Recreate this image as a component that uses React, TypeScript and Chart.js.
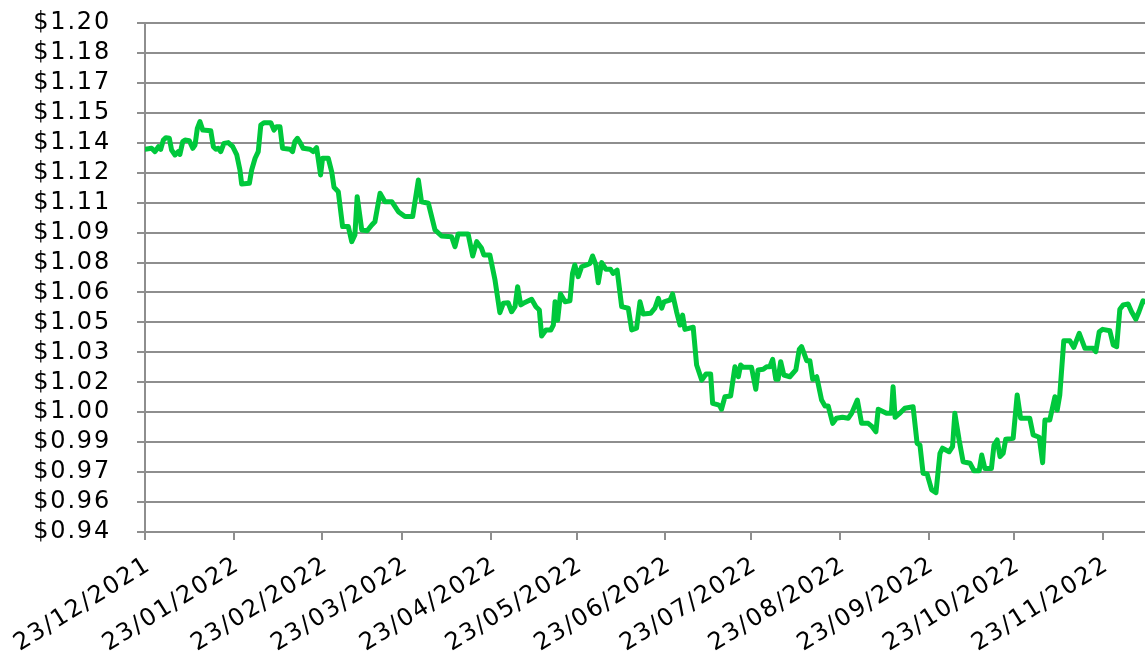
import React, { useEffect, useRef } from 'react';
import { Chart, registerables } from 'chart.js';

Chart.register(...registerables);

// Days since 23/12/2021
const dayOffsets: number[] = [
  0.0, 2.3, 3.5, 4.7, 5.5, 6.4, 7.3, 8.5, 9.3, 10.5, 11.6, 12.2, 13.2, 14.0, 15.5, 16.7, 17.5, 18.3, 19.2, 20.2,
  23.0, 23.9, 24.8, 25.6, 26.5, 27.6, 29.1, 30.7, 32.1, 33.2, 33.8, 36.5, 37.3, 38.5, 39.6, 40.5, 41.6, 44.0, 45.1, 46.0,
  47.2, 48.1, 50.7, 51.6, 52.4, 53.3, 54.4, 55.3, 57.7, 58.8, 60.0, 61.4, 62.1, 64.1, 65.3, 66.1, 67.6, 69.1, 71.1, 72.3,
  73.4, 74.2, 75.8, 77.7, 79.3, 80.4, 82.2, 83.9, 86.3, 88.6, 90.9, 93.6, 95.6, 96.7, 99.1, 101.4, 103.7, 107.2, 108.4, 109.5,
  113.0, 114.6, 116.0, 117.7, 118.5, 120.6, 122.4, 124.1, 125.3, 127.0, 128.2, 129.4, 130.3, 131.4, 132.3, 135.2, 136.7, 137.9, 138.7, 140.2,
  141.9, 142.8, 143.4, 144.3, 145.3, 146.9, 148.6, 149.5, 150.3, 151.5, 152.7, 154.4, 155.6, 156.5, 157.7, 158.5, 159.7, 161.2, 162.8, 163.7,
  165.1, 166.7, 169.0, 170.2, 171.9, 173.1, 174.2, 176.8, 178.3, 179.5, 180.7, 181.5, 183.6, 184.5, 185.9, 187.1, 188.0, 188.8, 191.7, 192.9,
  194.7, 196.2, 197.8, 198.5, 200.5, 201.0, 201.6, 202.8, 204.8, 206.3, 207.5, 208.3, 209.2, 212.1, 213.6, 214.4, 216.2, 217.4, 218.5, 219.5,
  220.6, 221.4, 222.3, 223.4, 225.5, 227.6, 228.8, 229.6, 231.4, 232.5, 233.5, 234.9, 236.6, 237.8, 238.9, 240.5, 241.8, 243.9, 245.9, 247.1,
  249.1, 250.6, 252.9, 254.1, 255.6, 256.4, 259.3, 261.0, 261.6, 262.3, 263.7, 265.7, 268.6, 270.0, 271.0, 272.1, 273.5, 275.1, 276.6, 278.0,
  278.9, 281.2, 282.4, 283.2, 284.7, 286.1, 288.5, 289.9, 291.7, 292.6, 293.7, 296.0, 296.9, 298.0, 299.0, 300.1, 301.0, 303.6, 305.0, 306.2,
  309.4, 310.6, 312.7, 313.9, 314.7, 316.4, 318.2, 319.0, 319.9, 321.3, 323.4, 324.8, 326.7, 328.7, 331.6, 332.5, 333.7, 334.9, 337.4, 338.6,
  339.8, 340.9, 342.1, 343.8, 345.0, 346.5, 347.6, 349.0, 349.7,
];

const prices: number[] = [
  1.1355, 1.1360, 1.1343, 1.1368, 1.1355, 1.1402, 1.1414, 1.1411, 1.1351, 1.1326, 1.1343, 1.1329, 1.1394, 1.1402, 1.1399, 1.1360, 1.1377, 1.1462, 1.1496, 1.1453,
  1.1450, 1.1368, 1.1355, 1.1360, 1.1343, 1.1385, 1.1389, 1.1368, 1.1326, 1.1249, 1.1178, 1.1181, 1.1249, 1.1309, 1.1343, 1.1479, 1.1491, 1.1491, 1.1453, 1.1470,
  1.1470, 1.1360, 1.1355, 1.1343, 1.1394, 1.1411, 1.1385, 1.1360, 1.1355, 1.1343, 1.1363, 1.1224, 1.1309, 1.1309, 1.1240, 1.1161, 1.1138, 1.0960, 1.0960, 1.0883,
  1.0917, 1.1113, 1.0943, 1.0939, 1.0968, 1.0985, 1.1130, 1.1087, 1.1087, 1.1036, 1.1011, 1.1011, 1.1198, 1.1087, 1.1079, 1.0943, 1.0912, 1.0908, 1.0857, 1.0922,
  1.0922, 1.0810, 1.0883, 1.0849, 1.0815, 1.0815, 1.0687, 1.0520, 1.0568, 1.0571, 1.0525, 1.0551, 1.0653, 1.0560, 1.0568, 1.0589, 1.0551, 1.0534, 1.0401, 1.0432,
  1.0432, 1.0457, 1.0576, 1.0483, 1.0616, 1.0576, 1.0581, 1.0721, 1.0764, 1.0704, 1.0755, 1.0764, 1.0772, 1.0810, 1.0764, 1.0673, 1.0776, 1.0742, 1.0742, 1.0721,
  1.0738, 1.0551, 1.0543, 1.0432, 1.0441, 1.0576, 1.0514, 1.0517, 1.0543, 1.0594, 1.0543, 1.0576, 1.0585, 1.0616, 1.0525, 1.0457, 1.0508, 1.0435, 1.0446, 1.0253,
  1.0176, 1.0207, 1.0207, 1.0057, 1.0049, 1.0044, 1.0027, 1.0091, 1.0095, 1.0244, 1.0193, 1.0253, 1.0241, 1.0241, 1.0129, 1.0228, 1.0231, 1.0244, 1.0244, 1.0282,
  1.0180, 1.0180, 1.0270, 1.0202, 1.0193, 1.0228, 1.0333, 1.0347, 1.0275, 1.0275, 1.0180, 1.0193, 1.0074, 1.0044, 1.0044, 0.9955, 0.9981, 0.9986, 0.9981, 1.0006,
  1.0074, 0.9955, 0.9955, 0.9941, 0.9912, 1.0027, 1.0006, 1.0006, 1.0142, 0.9986, 1.0003, 1.0032, 1.0040, 0.9853, 0.9844, 0.9700, 0.9696, 0.9615, 0.9601, 0.9802,
  0.9828, 0.9810, 0.9836, 1.0006, 0.9870, 0.9759, 0.9751, 0.9713, 0.9713, 0.9793, 0.9725, 0.9725, 0.9844, 0.9870, 0.9785, 0.9802, 0.9874, 0.9879, 1.0100, 0.9981,
  0.9981, 0.9896, 0.9884, 0.9754, 0.9972, 0.9972, 1.0091, 1.0023, 1.0100, 1.0377, 1.0377, 1.0343, 1.0415, 1.0338, 1.0338, 1.0321, 1.0423, 1.0435, 1.0428, 1.0355,
  1.0347, 1.0538, 1.0560, 1.0565, 1.0525, 1.0487, 1.0525, 1.0581, 1.0576,
];

const tickLabels: string[] = [
  '23/12/2021', '23/01/2022', '23/02/2022', '23/03/2022', '23/04/2022', '23/05/2022',
  '23/06/2022', '23/07/2022', '23/08/2022', '23/09/2022', '23/10/2022', '23/11/2022',
];

const xMaxDay = 349.7;
const yMin = 0.94;
const yMax = 1.2;
const yIntervals = 17;

function toUtc(label: string): number {
  const [d, m, y] = label.split('/').map(Number);
  return Date.UTC(y, m - 1, d);
}

const tickDays = tickLabels.map((l) => Math.round((toUtc(l) - toUtc(tickLabels[0])) / 86400000));
const yTicks = Array.from({ length: yIntervals + 1 }, (_, k) => yMin + ((yMax - yMin) * k) / yIntervals);

const FONT = { family: "'DejaVu Sans', Verdana, sans-serif", size: 24 };
const GRID = '#8e8e8e';

const spacingPlugin = {
  id: 'letterSpacing',
  beforeDraw(chart: any) {
    chart.ctx.letterSpacing = '1.8px';
  },
  afterDraw(chart: any) {
    chart.ctx.letterSpacing = '0px';
  },
};

export default function App() {
  const ref = useRef<HTMLCanvasElement | null>(null);

  useEffect(() => {
    if (!ref.current) return;
    const chart = new Chart(ref.current, {
      type: 'line',
      data: {
        datasets: [
          {
            data: dayOffsets.map((d, i) => ({ x: d, y: prices[i] })),
            borderColor: '#00c83c',
            borderWidth: 5,
            pointRadius: 0,
            tension: 0,
            fill: false,
            borderJoinStyle: 'round',
            borderCapStyle: 'round',
          },
        ],
      },
      options: {
        responsive: false,
        animation: false,
        layout: { padding: { top: 23, right: 0, left: 0, bottom: 0 } },
        plugins: { legend: { display: false }, tooltip: { enabled: false } },
        scales: {
          x: {
            type: 'linear',
            min: 0,
            max: xMaxDay,
            afterBuildTicks: (axis: any) => {
              axis.ticks = tickDays.map((v) => ({ value: v }));
            },
            afterFit: (axis: any) => {
              axis.height = 133;
              axis.paddingLeft = 0;
              axis.paddingRight = 0;
            },
            grid: { drawOnChartArea: false, drawTicks: true, tickLength: 8, color: GRID, lineWidth: 2 },
            border: { color: GRID, width: 2 },
            ticks: {
              autoSkip: false,
              minRotation: 32,
              maxRotation: 32,
              padding: 11,
              labelOffset: 4,
              color: '#000',
              font: FONT,
              callback: (_v: any, i: number) => tickLabels[i],
            },
          },
          y: {
            min: yMin,
            max: yMax,
            afterBuildTicks: (axis: any) => {
              axis.ticks = yTicks.map((v) => ({ value: v }));
            },
            afterFit: (axis: any) => {
              axis.width = 145;
              axis.paddingTop = 0;
              axis.paddingBottom = 0;
            },
            grid: { color: GRID, lineWidth: 2, tickLength: 8, drawTicks: true },
            border: { color: GRID, width: 2 },
            ticks: {
              autoSkip: false,
              padding: 26,
              color: '#000',
              font: FONT,
              callback: (v: any) => '$' + Number(v).toFixed(2),
            },
          },
        },
      },
      plugins: [spacingPlugin],
    } as any);
    return () => chart.destroy();
  }, []);

  return (
    <div style={{ position: 'absolute', left: 0, top: 0, width: 1145, height: 665, background: '#fff' }}>
      <canvas ref={ref} width={1145} height={665} />
    </div>
  );
}
